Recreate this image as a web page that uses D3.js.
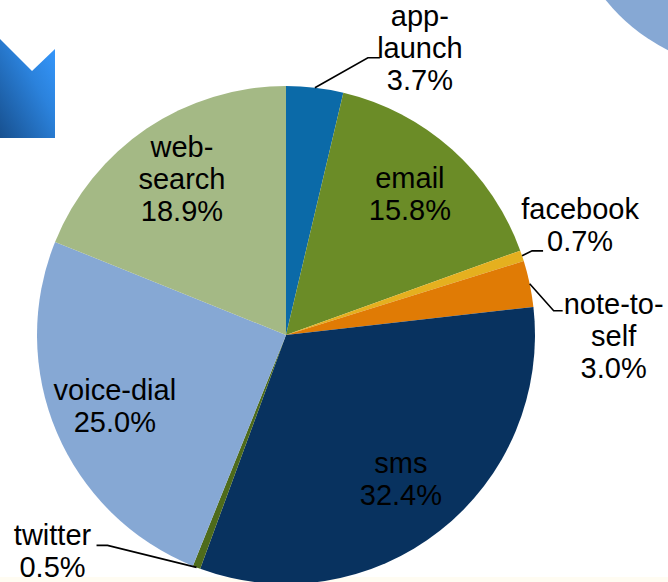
<!DOCTYPE html>
<html><head><meta charset="utf-8">
<script src="https://cdn.jsdelivr.net/npm/d3@7"></script>
<style>html,body{margin:0;padding:0;background:#fff;}svg{display:block;}</style>
</head><body>
<svg id="chart" width="668" height="582"></svg>
<script>
// ---- data ----
const categories = ["app-launch", "email", "facebook", "note-to-self", "sms", "twitter", "voice-dial", "web-search"];
const values = [3.7, 15.8, 0.7, 3.0, 32.4, 0.5, 25.0, 18.9];
const labelLines = [["app-", "launch"], ["email"], ["facebook"], ["note-to-", "self"], ["sms"], ["twitter"], ["voice-dial"], ["web-", "search"]];
const valueLabels = ["3.7%", "15.8%", "0.7%", "3.0%", "32.4%", "0.5%", "25.0%", "18.9%"];
const outsideLabels = ["app-launch", "facebook", "note-to-self", "twitter"];

// ---- style / layout ----
const colors = ["#0b6aa8", "#6b8c27", "#e5b01f", "#e07b05", "#08325f", "#4e6b1b", "#86a8d4", "#a4b985"];
const cx = 286, cy = 335, R = 249, fontSize = 29, lineH = 32;
const insideR = 186;
// leader layout for outside labels: elbow offset from edge point, horizontal tail, text-block centre offset from tail end
const leader = {
  "app-launch":   {elbow: [53, -30], tail: 12,  text: [40, -10]},
  "facebook":     {elbow: [10, -5],  tail: 11,  text: [37, -26]},
  "note-to-self": {elbow: [24, 27],  tail: 9,   text: [51, 25]},
  "twitter":      {elbow: [-89, -22], tail: -11, text: [-44, 6]}
};

const svg = d3.select("#chart");
// decorative background shapes
svg.append("rect").attr("x", 0).attr("y", 577).attr("width", 668).attr("height", 5).attr("fill", "#fffcf2");
const defs = svg.append("defs");
const grad = defs.append("linearGradient").attr("id", "arrowGrad")
  .attr("x1", "0%").attr("y1", "100%").attr("x2", "100%").attr("y2", "0%");
grad.append("stop").attr("offset", "0%").attr("stop-color", "#17508f");
grad.append("stop").attr("offset", "60%").attr("stop-color", "#2b82dc");
grad.append("stop").attr("offset", "100%").attr("stop-color", "#3699ff");
svg.append("path").attr("d", "M0,39 L32,71 L55,49 L55,138 L0,138 Z").attr("fill", "url(#arrowGrad)");
svg.append("circle").attr("cx", 752).attr("cy", -118).attr("r", 188).attr("fill", "#86a8d4");

const pie = d3.pie().sort(null).value(d => d.v)
  .startAngle(0).endAngle(2 * Math.PI);
const data = categories.map((c, i) => ({c, v: values[i], i}));
const arcs = pie(data);
const arc = d3.arc().innerRadius(0).outerRadius(R);
const labelArc = d3.arc().innerRadius(insideR).outerRadius(insideR);

const g = svg.append("g").attr("transform", `translate(${cx},${cy})`);
g.selectAll("path.slice").data(arcs).join("path")
  .attr("class", "slice")
  .attr("d", arc)
  .attr("fill", d => colors[d.data.i]);

function drawLines(x, y, lines) {
  const t = g.append("text").attr("text-anchor", "middle")
    .attr("font-family", "Liberation Sans, Arial, sans-serif")
    .attr("font-size", fontSize).attr("fill", "#000");
  lines.forEach((ln, k) => {
    t.append("tspan").attr("x", x)
      .attr("y", y + (k - (lines.length - 1) / 2) * lineH)
      .attr("dominant-baseline", "central")
      .text(ln);
  });
}

arcs.forEach(a => {
  const i = a.data.i;
  const lines = labelLines[i].concat([valueLabels[i]]);
  if (outsideLabels.includes(a.data.c)) {
    const L = leader[a.data.c];
    const mid = (a.startAngle + a.endAngle) / 2;
    const ex = R * Math.sin(mid), ey = -R * Math.cos(mid);
    const bx = ex + L.elbow[0], by = ey + L.elbow[1];
    const tx = bx + L.tail;
    g.append("path").attr("d", `M${ex},${ey} L${bx},${by} L${tx},${by}`)
      .attr("fill", "none").attr("stroke", "#000").attr("stroke-width", 1.6);
    drawLines(tx + L.text[0], by + L.text[1], lines);
  } else {
    const [lx, ly] = labelArc.centroid(a);
    drawLines(lx, ly - 2, lines);
  }
});
</script>
</body></html>
